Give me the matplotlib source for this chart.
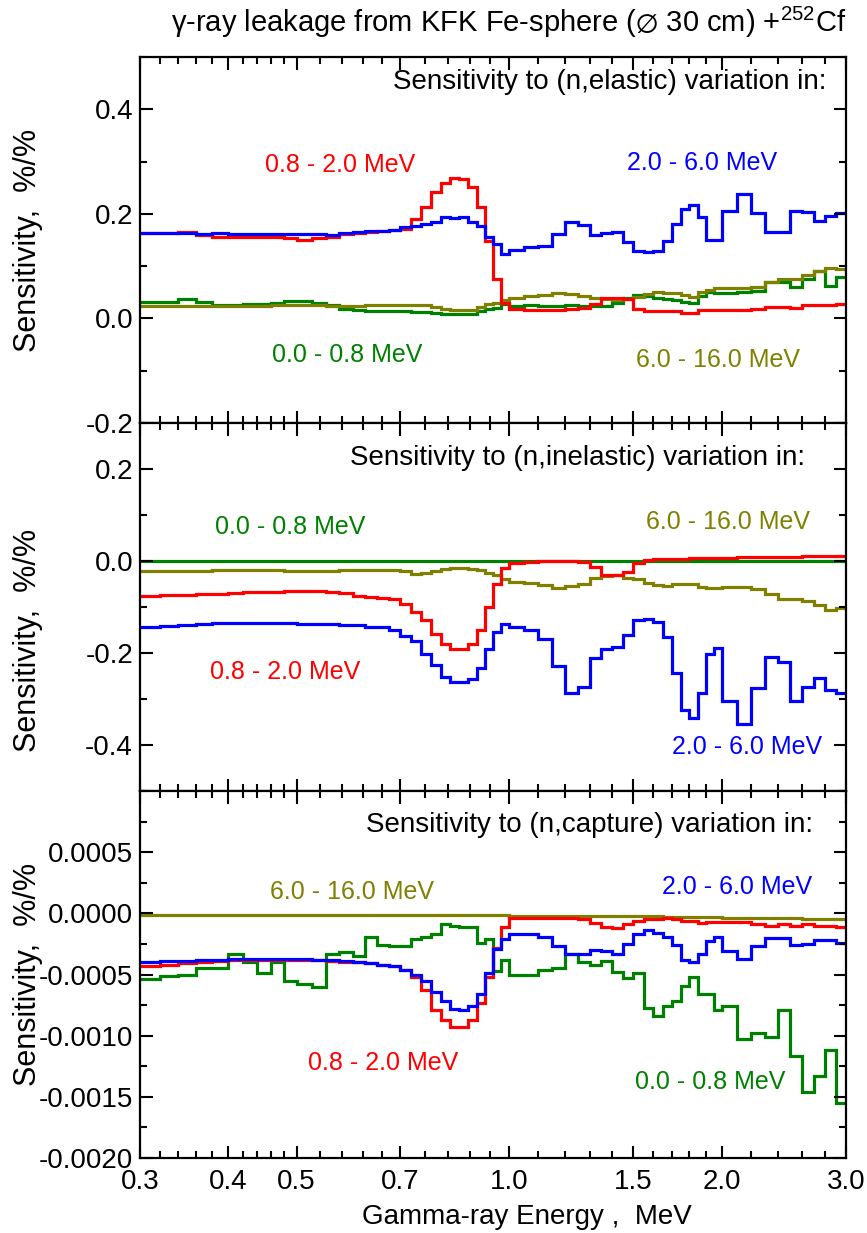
import numpy as np
import matplotlib.pyplot as plt
from matplotlib.ticker import FixedLocator, FixedFormatter

plt.rcParams['font.family'] = ['Liberation Sans', 'DejaVu Sans']
plt.rcParams['mathtext.fontset'] = 'custom'
plt.rcParams['mathtext.rm'] = 'Liberation Sans'
plt.rcParams['mathtext.fallback'] = 'stixsans'
plt.rcParams['axes.unicode_minus'] = False

# group boundaries (MeV)
edges = [0.30, 0.32, 0.34, 0.36, 0.38, 0.40, 0.42, 0.44, 0.46, 0.48,
         0.50, 0.525, 0.55, 0.575, 0.60, 0.625, 0.65, 0.675, 0.70, 0.725,
         0.75, 0.775, 0.80, 0.825, 0.85, 0.875, 0.90, 0.925, 0.95, 0.975,
         1.00, 1.05, 1.10, 1.15, 1.20, 1.25, 1.30, 1.35, 1.40, 1.45,
         1.50, 1.55, 1.60, 1.65, 1.70, 1.75, 1.80, 1.85, 1.90, 1.95,
         2.00, 2.10, 2.20, 2.30, 2.40, 2.50, 2.60, 2.70, 2.80, 2.90, 3.00]

# (n,elastic)
el_00_08 = [0.031, 0.032, 0.037, 0.031, 0.026, 0.026, 0.027, 0.027, 0.030, 0.033,
            0.033, 0.030, 0.025, 0.018, 0.016, 0.015, 0.015, 0.014, 0.014, 0.012,
            0.012, 0.010, 0.008, 0.008, 0.008, 0.009, 0.015, 0.018, 0.020, 0.028,
            0.023, 0.025, 0.024, 0.024, 0.025, 0.024, 0.023, 0.024, 0.030, 0.040,
            0.044, 0.043, 0.040, 0.038, 0.036, 0.032, 0.030, 0.043, 0.050, 0.048,
            0.048, 0.050, 0.053, 0.069, 0.069, 0.061, 0.075, 0.091, 0.062, 0.080]
el_08_20 = [0.164, 0.163, 0.165, 0.160, 0.156, 0.155, 0.155, 0.156, 0.155, 0.154,
            0.150, 0.153, 0.156, 0.162, 0.163, 0.166, 0.168, 0.170, 0.172, 0.190,
            0.214, 0.242, 0.260, 0.268, 0.266, 0.252, 0.214, 0.149, 0.076, 0.030,
            0.018, 0.017, 0.017, 0.017, 0.018, 0.021, 0.027, 0.040, 0.040, 0.037,
            0.018, 0.015, 0.015, 0.015, 0.015, 0.010, 0.010, 0.016, 0.016, 0.016,
            0.016, 0.017, 0.019, 0.022, 0.022, 0.021, 0.025, 0.025, 0.025, 0.027]
el_20_60 = [0.164, 0.163, 0.164, 0.162, 0.163, 0.161, 0.162, 0.162, 0.161, 0.161,
            0.162, 0.162, 0.160, 0.164, 0.165, 0.168, 0.168, 0.170, 0.175, 0.177,
            0.180, 0.185, 0.195, 0.193, 0.195, 0.185, 0.177, 0.156, 0.142, 0.124,
            0.131, 0.137, 0.138, 0.161, 0.185, 0.178, 0.159, 0.163, 0.165, 0.146,
            0.129, 0.127, 0.130, 0.148, 0.181, 0.210, 0.217, 0.194, 0.151, 0.151,
            0.206, 0.238, 0.202, 0.165, 0.165, 0.205, 0.204, 0.186, 0.196, 0.202]
el_60_160 = [0.023, 0.023, 0.023, 0.023, 0.023, 0.023, 0.024, 0.024, 0.025, 0.025,
             0.025, 0.025, 0.024, 0.024, 0.024, 0.025, 0.025, 0.026, 0.026, 0.026,
             0.026, 0.022, 0.018, 0.016, 0.016, 0.017, 0.022, 0.027, 0.030, 0.036,
             0.040, 0.043, 0.045, 0.048, 0.046, 0.043, 0.040, 0.038, 0.036, 0.038,
             0.042, 0.046, 0.050, 0.049, 0.048, 0.044, 0.042, 0.050, 0.055, 0.059,
             0.058, 0.058, 0.061, 0.069, 0.076, 0.075, 0.084, 0.091, 0.097, 0.094]

# (n,inelastic)
in_00_08 = [0.0, 0.0, 0.0, 0.0, 0.0, 0.0, 0.0, 0.0, 0.0, 0.0,
            0.0, 0.0, 0.0, 0.0, 0.0, 0.0, 0.0, 0.0, 0.0, 0.0,
            0.0, 0.0, 0.0, 0.0, 0.0, 0.0, 0.0, 0.0, 0.0, 0.0,
            0.0, 0.0, 0.0, 0.0, 0.0, 0.0, 0.0, 0.0, 0.0, 0.0,
            0.0, 0.0, 0.0, 0.0, 0.0, 0.0, 0.0, 0.0, 0.0, 0.0,
            0.0, 0.0, 0.0, 0.0, 0.0, 0.0, 0.0, 0.0, 0.0, 0.0]
in_08_20 = [-0.075, -0.074, -0.073, -0.072, -0.071, -0.070, -0.068, -0.067, -0.067, -0.066,
            -0.065, -0.066, -0.068, -0.069, -0.077, -0.078, -0.081, -0.083, -0.093, -0.111,
            -0.129, -0.158, -0.180, -0.191, -0.191, -0.180, -0.151, -0.101, -0.049, -0.016,
            -0.004, -0.002, -0.001, 0.000, -0.001, -0.003, -0.012, -0.030, -0.030, -0.023,
            -0.005, 0.003, 0.004, 0.004, 0.005, 0.005, 0.006, 0.006, 0.006, 0.007,
            0.007, 0.008, 0.008, 0.009, 0.009, 0.009, 0.010, 0.010, 0.010, 0.011]
in_20_60 = [-0.144, -0.141, -0.140, -0.137, -0.135, -0.134, -0.134, -0.134, -0.134, -0.134,
            -0.136, -0.138, -0.138, -0.139, -0.139, -0.144, -0.144, -0.150, -0.162, -0.173,
            -0.202, -0.227, -0.253, -0.264, -0.264, -0.257, -0.232, -0.191, -0.155, -0.138,
            -0.144, -0.151, -0.169, -0.228, -0.286, -0.274, -0.211, -0.191, -0.188, -0.160,
            -0.128, -0.126, -0.133, -0.166, -0.244, -0.323, -0.341, -0.286, -0.202, -0.190,
            -0.304, -0.354, -0.277, -0.208, -0.219, -0.304, -0.275, -0.255, -0.281, -0.286]
in_60_160 = [-0.022, -0.022, -0.021, -0.021, -0.020, -0.020, -0.020, -0.020, -0.020, -0.021,
             -0.022, -0.022, -0.021, -0.020, -0.019, -0.019, -0.019, -0.020, -0.022, -0.028,
             -0.027, -0.022, -0.017, -0.016, -0.016, -0.017, -0.020, -0.025, -0.031, -0.040,
             -0.045, -0.047, -0.053, -0.058, -0.054, -0.049, -0.038, -0.033, -0.031, -0.036,
             -0.040, -0.047, -0.053, -0.054, -0.051, -0.049, -0.051, -0.056, -0.058, -0.058,
             -0.056, -0.056, -0.060, -0.071, -0.083, -0.083, -0.088, -0.096, -0.106, -0.102]

# (n,capture)
cap_00_08 = [-0.00054, -0.00051, -0.00050, -0.00045, -0.00045, -0.00033, -0.00040, -0.00049, -0.00040, -0.00055,
             -0.00058, -0.00060, -0.00033, -0.00032, -0.00035, -0.00019, -0.00026, -0.00027, -0.00027, -0.00021,
             -0.00019, -0.00017, -0.00009, -0.00010, -0.00011, -0.00011, -0.00024, -0.00021, -0.00047, -0.00038,
             -0.00050, -0.00050, -0.00046, -0.00045, -0.00033, -0.00040, -0.00042, -0.00039, -0.00048, -0.00053,
             -0.00049, -0.00077, -0.00084, -0.00076, -0.00072, -0.00059, -0.00052, -0.00066, -0.00066, -0.00079,
             -0.00076, -0.00103, -0.00098, -0.00101, -0.00079, -0.00117, -0.00146, -0.00133, -0.00112, -0.00155]
cap_08_20 = [-0.00043, -0.00042, -0.00041, -0.00040, -0.00039, -0.00038, -0.00038, -0.00038, -0.00038, -0.00038,
             -0.00038, -0.00038, -0.00039, -0.00040, -0.00040, -0.00041, -0.00042, -0.00043, -0.00046, -0.00052,
             -0.00063, -0.00079, -0.00087, -0.00093, -0.00093, -0.00087, -0.00073, -0.00052, -0.00028, -0.00011,
             -0.00004, -0.00004, -0.00004, -0.00004, -0.00004, -0.00005, -0.00008, -0.00011, -0.00012, -0.00009,
             -0.00006, -0.00005, -0.00005, -0.00004, -0.00005, -0.00006, -0.00006, -0.00008, -0.00007, -0.00007,
             -0.00007, -0.00007, -0.00009, -0.00010, -0.00009, -0.00010, -0.00009, -0.00010, -0.00010, -0.00011]
cap_20_60 = [-0.00040, -0.00039, -0.00039, -0.00038, -0.00038, -0.00037, -0.00037, -0.00037, -0.00037, -0.00037,
             -0.00037, -0.00038, -0.00038, -0.00039, -0.00040, -0.00041, -0.00042, -0.00043, -0.00046, -0.00050,
             -0.00055, -0.00064, -0.00072, -0.00078, -0.00079, -0.00076, -0.00066, -0.00049, -0.00029, -0.00021,
             -0.00017, -0.00017, -0.00019, -0.00027, -0.00033, -0.00033, -0.00030, -0.00031, -0.00033, -0.00025,
             -0.00017, -0.00014, -0.00016, -0.00019, -0.00026, -0.00038, -0.00040, -0.00033, -0.00023, -0.00019,
             -0.00031, -0.00037, -0.00027, -0.00020, -0.00020, -0.00026, -0.00025, -0.00022, -0.00022, -0.00024]
cap_60_160 = [-0.00001, -0.00001, -0.00001, -0.00001, -0.00001, -0.00001, -0.00001, -0.00001, -0.00001, -0.00001,
              -0.00001, -0.00001, -0.00001, -0.00001, -0.00001, -0.00001, -0.00001, -0.00001, -0.00001, -0.00001,
              -0.00001, -0.00001, -0.00001, -0.00001, -0.00001, -0.00001, -0.00001, -0.00001, -0.00001, -0.00001,
              -0.00002, -0.00002, -0.00002, -0.00002, -0.00002, -0.00002, -0.00002, -0.00002, -0.00002, -0.00002,
              -0.00002, -0.00002, -0.00002, -0.00003, -0.00003, -0.00003, -0.00003, -0.00003, -0.00003, -0.00003,
              -0.00004, -0.00004, -0.00004, -0.00004, -0.00004, -0.00004, -0.00005, -0.00005, -0.00005, -0.00005]

x_major = [0.3, 0.4, 0.5, 0.7, 1.0, 1.5, 2.0, 3.0]
x_labels = ['0.3', '0.4', '0.5', '0.7', '1.0', '1.5', '2.0', '3.0']
x_minor = [0.32, 0.34, 0.36, 0.38, 0.42, 0.44, 0.46, 0.48, 0.54, 0.58, 0.62, 0.66,
           0.76, 0.82, 0.88, 0.94, 1.1, 1.2, 1.3, 1.4, 1.6, 1.7, 1.8, 1.9,
           2.2, 2.4, 2.6, 2.8]

colors = {'0.0 - 0.8 MeV': '#008000', '6.0 - 16.0 MeV': '#808000',
          '0.8 - 2.0 MeV': '#ff0000', '2.0 - 6.0 MeV': '#0000ff'}

panels = [
    dict(title='Sensitivity to (n,elastic) variation in:',
         series={'0.0 - 0.8 MeV': el_00_08, '6.0 - 16.0 MeV': el_60_160,
                 '0.8 - 2.0 MeV': el_08_20, '2.0 - 6.0 MeV': el_20_60},
         ylim=(-0.2, 0.5), major=[-0.2, 0.0, 0.2, 0.4],
         labels=['-0.2', '0.0', '0.2', '0.4'], minor=[-0.1, 0.1, 0.3, 0.5],
         note=(0.972, 0.932), ylab_y=0.5,
         pos={'0.8 - 2.0 MeV': (0.283, 0.705), '2.0 - 6.0 MeV': (0.796, 0.710),
              '0.0 - 0.8 MeV': (0.293, 0.186), '6.0 - 16.0 MeV': (0.819, 0.172)}),
    dict(title='Sensitivity to (n,inelastic) variation in:',
         series={'0.0 - 0.8 MeV': in_00_08, '6.0 - 16.0 MeV': in_60_160,
                 '0.8 - 2.0 MeV': in_08_20, '2.0 - 6.0 MeV': in_20_60},
         ylim=(-0.5, 0.3), major=[-0.4, -0.2, 0.0, 0.2],
         labels=['-0.4', '-0.2', '0.0', '0.2'], minor=[-0.5, -0.3, -0.1, 0.1, 0.3],
         note=(0.942, 0.905), ylab_y=0.41,
         pos={'0.0 - 0.8 MeV': (0.212, 0.717), '6.0 - 16.0 MeV': (0.833, 0.731),
              '0.8 - 2.0 MeV': (0.205, 0.323), '2.0 - 6.0 MeV': (0.860, 0.120)}),
    dict(title='Sensitivity to (n,capture) variation in:',
         series={'0.0 - 0.8 MeV': cap_00_08, '6.0 - 16.0 MeV': cap_60_160,
                 '0.8 - 2.0 MeV': cap_08_20, '2.0 - 6.0 MeV': cap_20_60},
         ylim=(-0.002, 0.001), major=[-0.002, -0.0015, -0.001, -0.0005, 0.0, 0.0005],
         labels=['-0.0020', '-0.0015', '-0.0010', '-0.0005', '0.0000', '0.0005'],
         minor=[-0.00175, -0.00125, -0.00075, -0.00025, 0.00025, 0.00075, 0.001],
         note=(0.953, 0.907), ylab_y=0.5,
         pos={'6.0 - 16.0 MeV': (0.300, 0.725), '2.0 - 6.0 MeV': (0.846, 0.738),
              '0.8 - 2.0 MeV': (0.344, 0.259), '0.0 - 0.8 MeV': (0.807, 0.207)}),
]

fig = plt.figure(figsize=(8.67, 12.33), dpi=100)
boxes = [[0.1615, 0.6569, 0.8143, 0.2968],
         [0.1615, 0.3585, 0.8143, 0.2984],
         [0.1615, 0.0608, 0.8143, 0.2977]]

for i, (p, box) in enumerate(zip(panels, boxes)):
    ax = fig.add_axes(box)
    for name, vals in p['series'].items():
        ax.stairs(vals, edges, baseline=None, color=colors[name], lw=2.3)
    ax.set_xscale('log')
    ax.set_xlim(0.3, 3.0)
    ax.set_ylim(*p['ylim'])
    ax.xaxis.set_major_locator(FixedLocator(x_major))
    ax.xaxis.set_major_formatter(FixedFormatter(x_labels))
    ax.xaxis.set_minor_locator(FixedLocator(x_minor))
    ax.xaxis.set_minor_formatter(FixedFormatter([''] * len(x_minor)))
    ax.yaxis.set_major_locator(FixedLocator(p['major']))
    ax.yaxis.set_major_formatter(FixedFormatter(p['labels']))
    ax.yaxis.set_minor_locator(FixedLocator(p['minor']))
    ax.tick_params(which='both', direction='in', top=True, right=True, width=1.5)
    ax.tick_params(which='major', length=9, labelsize=20)
    ax.tick_params(which='minor', length=5)
    ax.tick_params(axis='y', pad=5)
    ax.tick_params(axis='x', pad=8, labelbottom=(i == 2))
    for s in ax.spines.values():
        s.set_linewidth(1.6)
    ax.set_ylabel('Sensitivity,  %/%', fontsize=22)
    ax.yaxis.set_label_coords(-0.138, p['ylab_y'])
    ax.text(p['note'][0], p['note'][1], p['title'], transform=ax.transAxes,
            ha='right', va='center', fontsize=20)
    for name, (tx, ty) in p['pos'].items():
        ax.text(tx, ty, name, transform=ax.transAxes, ha='center', va='center',
                fontsize=18, color=colors[name])
    if i == 2:
        ax.set_xlabel('Gamma-ray Energy ,  MeV', fontsize=20)
        ax.xaxis.set_label_coords(0.548, -0.125)

fig.text(0.587, 0.982, '\u03b3-ray leakage from KFK Fe-sphere ($\\varnothing$ 30 cm) +$^{252}$Cf',
         ha='center', va='center', fontsize=21)

fig.savefig('out.png', dpi=100)
